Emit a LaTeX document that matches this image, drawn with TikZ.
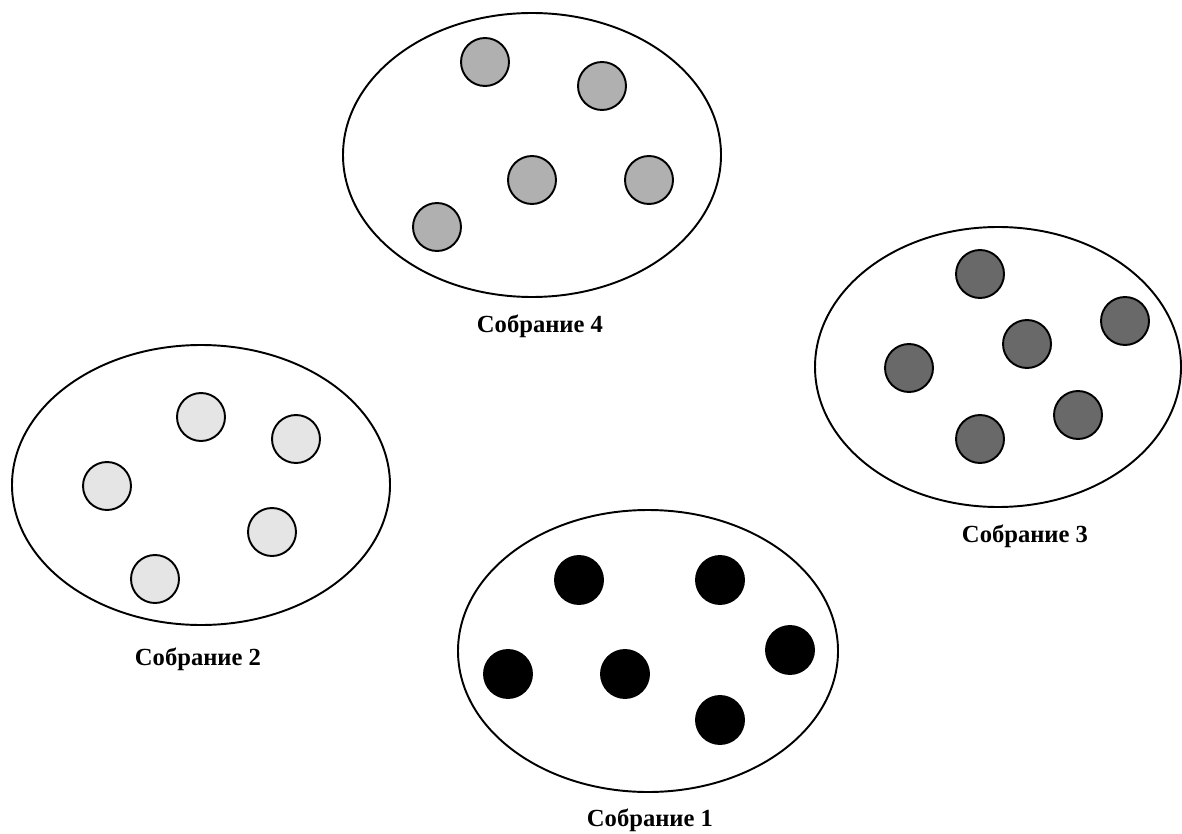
\documentclass[tikz,border=0pt]{standalone}
\usepackage{fontspec}
\setmainfont{Liberation Serif}
\begin{document}
\begin{tikzpicture}[x=0.02cm, y=-0.02cm,
    group/.style={line width=1.1pt},
    member/.style={circle, draw=black, line width=1.1pt, minimum size=0.96cm, inner sep=0pt},
    label/.style={font=\fontsize{14}{16}\selectfont\bfseries},
  ]
  \useasboundingbox (0,0) rectangle (1182,834);

  % the four groups
  \coordinate (G4) at (532,155);
  \coordinate (G3) at (998,367);
  \coordinate (G2) at (201,485);
  \coordinate (G1) at (648,651);
  \draw[group] (G4) ellipse [x radius=189, y radius=142];
  \draw[group] (G3) ellipse [x radius=183, y radius=140];
  \draw[group] (G2) ellipse [x radius=189, y radius=140];
  \draw[group] (G1) ellipse [x radius=190, y radius=141];

  % members of group 4
  \node[member, fill=black!31](D1) at (485, 62){};
  \node[member, fill=black!31](D2) at (602, 86){};
  \node[member, fill=black!31](D3) at (532,180){};
  \node[member, fill=black!31](D4) at (649,180){};
  \node[member, fill=black!31](D5) at (437,227){};

  % members of group 3
  \node[member, fill=black!59](C1) at (980,274){};
  \node[member, fill=black!59](C2) at (1125,321){};
  \node[member, fill=black!59](C3) at (1027,344){};
  \node[member, fill=black!59](C4) at (909,368){};
  \node[member, fill=black!59](C5) at (1078,415){};
  \node[member, fill=black!59](C6) at (980,439){};

  % members of group 2
  \node[member, fill=black!10](B1) at (201,417){};
  \node[member, fill=black!10](B2) at (296,439){};
  \node[member, fill=black!10](B3) at (107,486){};
  \node[member, fill=black!10](B4) at (272,532){};
  \node[member, fill=black!10](B5) at (155,579){};

  % members of group 1
  \node[member, fill=black](A1) at (579,580){};
  \node[member, fill=black](A2) at (720,580){};
  \node[member, fill=black](A3) at (790,650){};
  \node[member, fill=black](A4) at (508,674){};
  \node[member, fill=black](A5) at (625,674){};
  \node[member, fill=black](A6) at (720,720){};

  \node[label](L4) at (540,326){Собрание 4};
  \node[label](L3) at (1025,536){Собрание 3};
  \node[label](L2) at (198,659){Собрание 2};
  \node[label](L1) at (650,820){Собрание 1};
\end{tikzpicture}
\end{document}
